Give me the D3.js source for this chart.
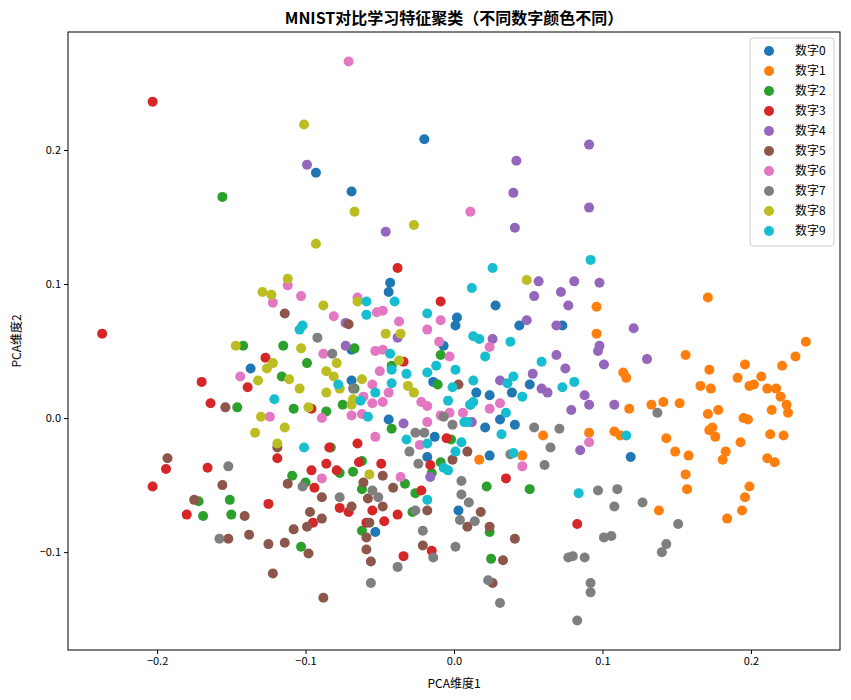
<!DOCTYPE html>
<html>
<head>
<meta charset="utf-8">
<script src="https://cdn.jsdelivr.net/npm/d3@7"></script>
<style>
  body { margin: 0; background: #fff; }
  svg { font-family: "Noto Sans CJK SC", "DejaVu Sans", sans-serif; }
</style>
</head>
<body>
<svg width="851" height="700"></svg>
<script>
'use strict';

// data: [x, y] per digit class
const digit0 = [[-0.020,0.208],[-0.093,0.183],[-0.069,0.169],[-0.043,0.101],[-0.044,0.094],[-0.069,0.051],[-0.137,0.037],[-0.069,0.028],[-0.044,-0.001],[-0.014,0.027],[-0.007,0.054],[0.002,0.075],[0.001,0.069],[0.028,0.084],[0.044,0.069],[0.073,0.069],[0.051,0.025],[0.039,0.019],[0.024,0.017],[0.015,0.019],[0.021,-0.007],[0.024,-0.028],[0.041,-0.005],[0.119,-0.029],[-0.013,-0.014],[-0.018,-0.029],[0.003,-0.069],[-0.053,-0.085],[0.011,0.010],[0.031,-0.001]];
const digit1 = [[0.171,0.090],[0.156,0.047],[0.196,0.040],[0.230,0.046],[0.237,0.057],[0.221,0.039],[0.172,0.036],[0.191,0.030],[0.207,0.031],[0.199,0.024],[0.202,0.025],[0.211,0.022],[0.217,0.022],[0.166,0.024],[0.173,0.022],[0.141,0.012],[0.152,0.011],[0.133,0.010],[0.118,0.007],[0.220,0.016],[0.224,0.010],[0.214,0.006],[0.225,0.004],[0.195,0.000],[0.198,-0.001],[0.171,0.003],[0.178,0.006],[0.174,-0.007],[0.172,-0.009],[0.176,-0.014],[0.193,-0.018],[0.222,-0.013],[0.213,-0.012],[0.143,-0.015],[0.149,-0.025],[0.158,-0.028],[0.183,-0.025],[0.181,-0.031],[0.211,-0.030],[0.216,-0.033],[0.156,-0.042],[0.157,-0.053],[0.199,-0.051],[0.196,-0.059],[0.194,-0.069],[0.184,-0.075],[0.138,-0.069],[0.112,-0.013],[0.108,-0.010],[0.046,-0.028],[0.017,-0.031],[0.060,-0.013],[0.091,-0.011],[0.096,0.083],[0.096,0.063],[0.114,0.034],[0.116,0.030]];
const digit2 = [[-0.156,0.165],[-0.142,0.054],[-0.115,0.054],[-0.099,0.041],[-0.116,0.031],[-0.146,0.008],[-0.108,0.007],[-0.086,0.005],[-0.075,0.010],[-0.067,0.022],[-0.067,0.052],[-0.042,0.039],[-0.009,0.047],[-0.011,0.025],[-0.042,-0.008],[-0.083,-0.022],[-0.109,-0.043],[-0.100,-0.048],[-0.077,-0.041],[-0.068,-0.040],[-0.151,-0.061],[-0.172,-0.062],[-0.169,-0.073],[-0.150,-0.072],[-0.103,-0.096],[-0.062,-0.032],[-0.062,-0.053],[-0.062,-0.084],[-0.033,-0.049],[-0.026,-0.056],[-0.028,-0.070],[-0.015,-0.041],[0.022,-0.051],[0.024,-0.085],[0.025,-0.105],[0.051,-0.053],[-0.009,-0.033],[-0.002,-0.016]];
const digit3 = [[-0.203,0.236],[-0.237,0.063],[-0.038,0.112],[-0.009,0.087],[-0.034,0.042],[-0.127,0.045],[-0.139,0.023],[-0.164,0.011],[-0.170,0.027],[-0.096,0.007],[-0.005,-0.015],[-0.016,-0.035],[0.035,-0.045],[0.083,-0.079],[-0.034,-0.103],[-0.015,-0.099],[-0.038,-0.072],[-0.047,-0.077],[-0.065,-0.019],[-0.084,-0.022],[-0.119,-0.030],[-0.166,-0.037],[-0.194,-0.038],[-0.203,-0.051],[-0.180,-0.072],[-0.125,-0.064],[-0.096,-0.039],[-0.086,-0.034],[-0.079,-0.039],[-0.064,-0.033],[-0.094,-0.052],[-0.095,-0.078],[-0.077,-0.067],[-0.071,-0.070],[-0.055,-0.069],[-0.059,-0.078],[-0.022,-0.054],[-0.049,-0.034]];
const digit4 = [[-0.099,0.189],[-0.046,0.139],[0.042,0.192],[0.091,0.204],[0.091,0.157],[0.040,0.168],[0.041,0.142],[0.057,0.102],[0.081,0.102],[0.098,0.101],[0.072,0.094],[0.054,0.091],[0.049,0.073],[0.069,0.069],[0.077,0.084],[0.121,0.067],[0.098,0.054],[0.097,0.050],[0.101,0.040],[0.130,0.044],[0.026,0.059],[0.031,0.028],[0.053,0.033],[0.069,0.047],[0.075,0.037],[0.063,0.019],[0.091,0.010],[0.108,0.010],[0.088,0.017],[0.079,0.006],[0.085,-0.024],[0.059,0.022],[-0.073,0.071],[-0.073,0.054],[-0.038,0.060],[-0.016,-0.044],[0.012,-0.003],[-0.034,-0.004]];
const digit5 = [[-0.114,0.078],[-0.071,0.070],[-0.154,0.008],[-0.193,-0.030],[-0.156,-0.050],[-0.175,-0.061],[-0.141,-0.073],[-0.138,-0.087],[-0.152,-0.090],[-0.125,-0.094],[-0.114,-0.093],[-0.098,-0.101],[-0.122,-0.116],[-0.088,-0.134],[-0.108,-0.083],[-0.097,-0.070],[-0.089,-0.075],[-0.099,-0.081],[-0.089,-0.059],[-0.112,-0.049],[-0.069,-0.066],[-0.048,-0.043],[-0.041,-0.052],[-0.061,-0.048],[-0.058,-0.060],[-0.057,-0.078],[-0.059,-0.089],[-0.059,-0.098],[-0.056,-0.107],[-0.048,-0.066],[-0.021,-0.095],[-0.018,-0.069],[-0.119,-0.022],[0.003,0.025],[0.009,-0.025],[-0.001,-0.031],[0.018,-0.070],[0.024,-0.081],[0.009,-0.081],[0.041,-0.090],[0.033,-0.106],[0.026,-0.123]];
const digit6 = [[-0.071,0.266],[0.011,0.154],[-0.112,0.099],[-0.122,0.086],[-0.103,0.091],[-0.081,0.076],[-0.065,0.090],[-0.052,0.079],[-0.048,0.080],[-0.037,0.072],[-0.018,0.066],[-0.009,0.073],[-0.010,0.057],[-0.003,0.046],[-0.088,0.048],[-0.053,0.050],[-0.048,0.051],[-0.050,0.035],[-0.055,0.025],[-0.044,0.019],[-0.061,0.016],[-0.055,0.011],[-0.048,0.012],[-0.022,0.012],[-0.018,0.009],[-0.009,0.002],[-0.018,-0.003],[-0.003,0.004],[-0.069,0.002],[-0.062,0.003],[-0.089,0.000],[-0.124,0.001],[-0.144,0.031],[-0.053,-0.014],[-0.023,-0.020],[-0.089,-0.045],[-0.036,-0.044],[0.024,0.053],[0.031,0.011],[0.024,0.007],[0.006,0.004],[0.046,-0.036],[0.091,-0.018]];
const digit7 = [[-0.092,0.060],[-0.082,0.048],[-0.068,0.022],[-0.152,-0.036],[-0.102,-0.051],[-0.077,-0.059],[-0.158,-0.090],[-0.026,-0.011],[-0.020,-0.011],[-0.030,-0.025],[-0.024,-0.034],[-0.007,0.001],[-0.001,-0.005],[-0.055,-0.054],[-0.051,-0.059],[-0.026,-0.069],[-0.021,-0.084],[-0.014,-0.104],[-0.038,-0.111],[-0.056,-0.123],[0.001,-0.096],[0.054,-0.007],[0.071,-0.008],[0.065,-0.022],[0.061,-0.035],[0.137,0.004],[0.038,-0.027],[0.005,-0.047],[0.005,-0.057],[0.010,-0.063],[0.004,-0.076],[0.014,-0.077],[0.023,-0.121],[0.031,-0.138],[0.097,-0.054],[0.110,-0.053],[0.108,-0.066],[0.127,-0.063],[0.151,-0.079],[0.101,-0.089],[0.106,-0.088],[0.143,-0.094],[0.140,-0.100],[0.077,-0.104],[0.080,-0.103],[0.088,-0.104],[0.092,-0.123],[0.092,-0.130],[0.083,-0.151]];
const digit8 = [[-0.101,0.219],[-0.067,0.154],[-0.093,0.130],[-0.027,0.144],[0.049,0.103],[-0.112,0.104],[-0.129,0.094],[-0.123,0.092],[-0.088,0.084],[-0.046,0.063],[-0.036,0.063],[-0.147,0.054],[-0.103,0.052],[-0.079,0.041],[-0.086,0.035],[-0.081,0.031],[-0.111,0.029],[-0.104,0.022],[-0.126,0.037],[-0.122,0.041],[-0.132,0.028],[-0.086,0.019],[-0.077,0.022],[-0.062,0.029],[-0.065,0.087],[-0.037,0.043],[-0.031,0.024],[-0.027,0.019],[-0.069,0.010],[-0.068,0.014],[-0.098,0.008],[-0.130,0.001],[-0.134,-0.011],[-0.114,-0.007],[-0.119,-0.019],[-0.057,-0.042]];
const digit9 = [[-0.059,0.087],[-0.059,0.077],[-0.040,0.087],[-0.018,0.078],[-0.102,0.069],[-0.104,0.066],[-0.043,0.048],[-0.042,0.036],[-0.032,0.033],[-0.018,0.034],[-0.012,0.039],[-0.042,0.026],[-0.078,0.025],[-0.053,0.019],[-0.063,0.013],[-0.058,0.001],[-0.121,0.014],[-0.101,-0.022],[-0.032,-0.016],[-0.018,-0.019],[-0.007,-0.037],[-0.004,-0.039],[-0.018,-0.061],[-0.004,0.013],[-0.001,0.023],[0.092,0.118],[0.026,0.112],[0.012,0.097],[0.038,0.057],[0.013,0.061],[0.017,0.059],[0.021,0.046],[0.001,0.036],[0.013,0.028],[0.040,0.031],[0.036,0.026],[0.059,0.042],[0.073,0.023],[0.081,0.027],[0.046,0.016],[0.013,0.012],[0.011,0.010],[0.035,0.004],[0.007,-0.003],[0.009,-0.003],[0.005,-0.018],[0.001,-0.025],[0.032,-0.012],[0.040,-0.026],[0.116,-0.013],[0.084,-0.056]];

const classes = [digit0, digit1, digit2, digit3, digit4, digit5, digit6, digit7, digit8, digit9];
const labels = ['数字0','数字1','数字2','数字3','数字4','数字5','数字6','数字7','数字8','数字9'];
const xTicks = [-0.2, -0.1, 0.0, 0.1, 0.2];
const yTicks = [-0.1, 0.0, 0.1, 0.2];
const colors = d3.schemeCategory10;

const svg = d3.select('svg');
const margin = {top: 32, right: 11, bottom: 50, left: 68};
const width = 851 - margin.left - margin.right;
const height = 700 - margin.top - margin.bottom;

const x = d3.scaleLinear().domain([-0.26, 0.26]).range([0, width]);
const y = d3.scaleLinear().domain([-0.173, 0.288]).range([height, 0]);

const g = svg.append('g')
	.attr('transform', 'translate(' + margin.left + ',' + margin.top + ')');

// points
classes.forEach((pts, i) => {
	g.append('g').selectAll('circle')
		.data(pts)
		.enter().append('circle')
			.attr('cx', d => x(d[0]))
			.attr('cy', d => y(d[1]))
			.attr('r', 5)
			.attr('fill', colors[i]);
});

// axes
const fmt = d3.format('.1f');
g.append('g')
	.attr('transform', 'translate(0,' + height + ')')
	.call(d3.axisBottom(x).tickValues(xTicks).tickFormat(fmt).tickSizeOuter(0).tickSize(4));
g.append('g')
	.call(d3.axisLeft(y).tickValues(yTicks).tickFormat(fmt).tickSizeOuter(0).tickSize(4));
g.selectAll('.tick text').attr('font-size', 11).attr('font-family', '"Noto Sans CJK SC", sans-serif').attr('fill', '#000');
g.selectAll('.domain').remove();

// frame
g.append('rect')
	.attr('width', width).attr('height', height)
	.attr('fill', 'none').attr('stroke', '#000').attr('stroke-width', 1);

// title and axis labels
svg.append('text')
	.attr('x', margin.left + width / 2).attr('y', 24)
	.attr('text-anchor', 'middle').attr('font-size', 16).attr('font-weight', 'bold')
	.text('MNIST对比学习特征聚类（不同数字颜色不同）');
svg.append('text')
	.attr('x', margin.left + width / 2).attr('y', 688)
	.attr('text-anchor', 'middle').attr('font-size', 12)
	.text('PCA维度1');
svg.append('text')
	.attr('transform', 'translate(21,' + (margin.top + height / 2) + ') rotate(-90)')
	.attr('text-anchor', 'middle').attr('font-size', 12)
	.text('PCA维度2');

// legend
const lg = svg.append('g').attr('transform', 'translate(750,38)');
lg.append('rect')
	.attr('width', 84).attr('height', 208).attr('rx', 3)
	.attr('fill', '#fff').attr('fill-opacity', 0.8).attr('stroke', '#ccc');
labels.forEach((lab, i) => {
	lg.append('circle').attr('cx', 19).attr('cy', 13 + i * 20).attr('r', 5).attr('fill', colors[i]);
	lg.append('text').attr('x', 45).attr('y', 17 + i * 20).attr('font-size', 12).text(lab);
});
</script>
</body>
</html>
